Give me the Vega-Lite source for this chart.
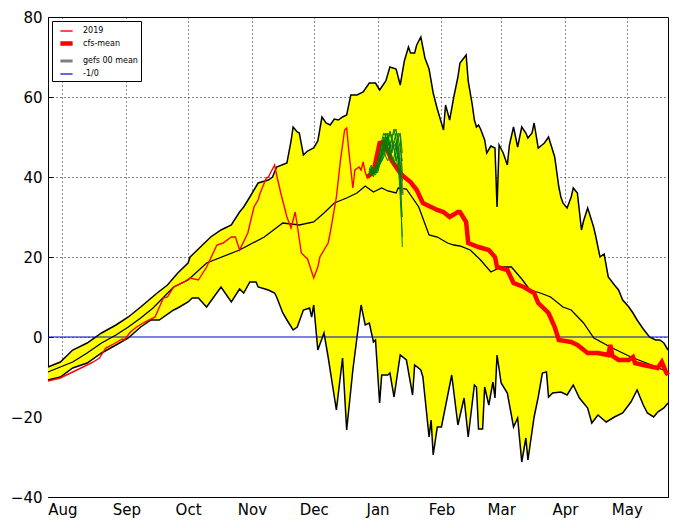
{
  "$schema": "https://vega.github.io/schema/vega-lite/v6.json",
  "width": 620,
  "height": 480,
  "autosize": {"type": "none"},
  "padding": {"left": 48, "top": 17, "right": 9, "bottom": 31},
  "background": "white",
  "config": {
    "font": "DejaVu Sans",
    "view": {"stroke": "black", "strokeWidth": 1},
    "axis": {
      "grid": true, "gridColor": "black", "gridDash": [1, 3], "gridWidth": 1, "gridOpacity": 0.9,
      "domainColor": "black", "tickColor": "black", "labelColor": "black",
      "labelFontSize": 15, "labelFont": "DejaVu Sans", "tickSize": -5, "title": null,
      "zindex": 1, "labelFlush": false, "labelOverlap": false
    },
    "legend": {
      "orient": "top-left", "offset": 4, "padding": 3,
      "symbolType": "stroke", "symbolSize": 150, "labelFontSize": 8, "labelFont": "DejaVu Sans",
      "labelOffset": 8, "symbolOffset": 3, "strokeColor": "black", "fillColor": "white",
      "rowPadding": -3, "labelLimit": 200, "labelColor": "black"
    }
  },
  "datasets": {
    "upper": [
      {"date":"2019-07-25","v":-7.5},{"date":"2019-07-31","v":-6.25},{"date":"2019-08-06","v":-3.25},{"date":"2019-08-13","v":-1.5},
      {"date":"2019-08-20","v":1},{"date":"2019-08-27","v":3},{"date":"2019-09-02","v":5},{"date":"2019-09-08","v":7.5},
      {"date":"2019-09-12","v":9.25},{"date":"2019-09-16","v":11},{"date":"2019-09-21","v":13},{"date":"2019-09-26","v":16},
      {"date":"2019-10-01","v":18.5},{"date":"2019-10-02","v":20},{"date":"2019-10-04","v":21},{"date":"2019-10-07","v":22.5},
      {"date":"2019-10-12","v":25},{"date":"2019-10-17","v":26.75},{"date":"2019-10-22","v":28},{"date":"2019-10-26","v":31.25},
      {"date":"2019-10-28","v":32.5},{"date":"2019-10-31","v":35},{"date":"2019-11-04","v":38.5},{"date":"2019-11-09","v":39.25},
      {"date":"2019-11-11","v":40},{"date":"2019-11-13","v":42.5},{"date":"2019-11-18","v":43.5},{"date":"2019-11-20","v":49},
      {"date":"2019-11-21","v":52.5},{"date":"2019-11-23","v":51.25},{"date":"2019-11-24","v":51},{"date":"2019-11-26","v":45.5},
      {"date":"2019-11-28","v":46.5},{"date":"2019-12-01","v":47.25},{"date":"2019-12-03","v":49},{"date":"2019-12-05","v":55},
      {"date":"2019-12-07","v":53.5},{"date":"2019-12-09","v":53},{"date":"2019-12-11","v":54.5},{"date":"2019-12-13","v":54.25},
      {"date":"2019-12-15","v":55},{"date":"2019-12-17","v":55.5},{"date":"2019-12-19","v":60.5},{"date":"2019-12-22","v":60.5},
      {"date":"2019-12-25","v":61.25},{"date":"2019-12-28","v":63.5},{"date":"2019-12-31","v":63.5},{"date":"2020-01-02","v":61.75},
      {"date":"2020-01-05","v":64},{"date":"2020-01-07","v":67.5},{"date":"2020-01-10","v":67},{"date":"2020-01-12","v":63},
      {"date":"2020-01-14","v":69},{"date":"2020-01-16","v":72.5},{"date":"2020-01-17","v":71},{"date":"2020-01-19","v":71},
      {"date":"2020-01-20","v":73},{"date":"2020-01-22","v":75},{"date":"2020-01-24","v":69.75},{"date":"2020-01-26","v":67},
      {"date":"2020-01-28","v":61},{"date":"2020-01-30","v":57},{"date":"2020-02-02","v":51.75},{"date":"2020-02-03","v":58},
      {"date":"2020-02-05","v":54.25},{"date":"2020-02-07","v":60},{"date":"2020-02-09","v":65},{"date":"2020-02-10","v":68.5},
      {"date":"2020-02-13","v":70.5},{"date":"2020-02-14","v":64},{"date":"2020-02-16","v":58},{"date":"2020-02-17","v":54.25},
      {"date":"2020-02-18","v":52.5},{"date":"2020-02-19","v":53},{"date":"2020-02-20","v":52},{"date":"2020-02-22","v":49.25},
      {"date":"2020-02-23","v":46},{"date":"2020-02-25","v":47.75},{"date":"2020-02-27","v":47.25},{"date":"2020-02-28","v":32.5},
      {"date":"2020-02-29","v":48},{"date":"2020-03-02","v":46},{"date":"2020-03-04","v":43},{"date":"2020-03-05","v":48},
      {"date":"2020-03-07","v":52.5},{"date":"2020-03-09","v":47.5},{"date":"2020-03-11","v":52.5},{"date":"2020-03-13","v":51},
      {"date":"2020-03-14","v":49.75},{"date":"2020-03-16","v":51},{"date":"2020-03-17","v":53.5},{"date":"2020-03-19","v":47.25},
      {"date":"2020-03-22","v":48.5},{"date":"2020-03-24","v":50},{"date":"2020-03-27","v":45},{"date":"2020-03-29","v":37.5},
      {"date":"2020-03-30","v":35},{"date":"2020-03-31","v":33.5},{"date":"2020-04-02","v":32.25},{"date":"2020-04-04","v":35},
      {"date":"2020-04-05","v":37.25},{"date":"2020-04-07","v":36},{"date":"2020-04-09","v":26.75},{"date":"2020-04-10","v":29},
      {"date":"2020-04-12","v":32.25},{"date":"2020-04-14","v":29},{"date":"2020-04-15","v":27.25},{"date":"2020-04-16","v":25},
      {"date":"2020-04-18","v":20},{"date":"2020-04-20","v":20.75},{"date":"2020-04-22","v":15},{"date":"2020-04-25","v":13},
      {"date":"2020-04-27","v":11.75},{"date":"2020-04-29","v":9.25},{"date":"2020-05-02","v":7.5},{"date":"2020-05-04","v":6},
      {"date":"2020-05-06","v":4.25},{"date":"2020-05-09","v":2},{"date":"2020-05-12","v":0},{"date":"2020-05-15","v":-0.75},
      {"date":"2020-05-17","v":-0.75},{"date":"2020-05-19","v":-1.5},{"date":"2020-05-21","v":-3.25}
    ],
    "lower": [
      {"date":"2019-07-25","v":-10.75},{"date":"2019-07-31","v":-10},{"date":"2019-08-06","v":-7.75},{"date":"2019-08-13","v":-6.5},
      {"date":"2019-08-20","v":-4},{"date":"2019-08-27","v":-2},{"date":"2019-09-02","v":-0.25},{"date":"2019-09-08","v":2.5},
      {"date":"2019-09-13","v":4.25},{"date":"2019-09-17","v":4.25},{"date":"2019-09-24","v":6.75},{"date":"2019-09-26","v":7.25},
      {"date":"2019-10-01","v":8.75},{"date":"2019-10-03","v":9.75},{"date":"2019-10-06","v":9.75},{"date":"2019-10-10","v":7.5},
      {"date":"2019-10-17","v":12.5},{"date":"2019-10-22","v":8.75},{"date":"2019-10-26","v":12},{"date":"2019-10-28","v":11},
      {"date":"2019-10-31","v":13.75},{"date":"2019-11-03","v":13.75},{"date":"2019-11-04","v":12.5},{"date":"2019-11-09","v":11.75},
      {"date":"2019-11-12","v":11},{"date":"2019-11-13","v":10},{"date":"2019-11-16","v":6},{"date":"2019-11-18","v":4.25},
      {"date":"2019-11-21","v":1.75},{"date":"2019-11-23","v":2.5},{"date":"2019-11-26","v":6.75},{"date":"2019-11-29","v":7.25},
      {"date":"2019-11-30","v":5},{"date":"2019-12-01","v":8},{"date":"2019-12-03","v":-3.25},{"date":"2019-12-06","v":1},
      {"date":"2019-12-08","v":-5},{"date":"2019-12-12","v":-18.25},{"date":"2019-12-15","v":-5.25},{"date":"2019-12-17","v":-23.25},
      {"date":"2019-12-20","v":-8.25},{"date":"2019-12-24","v":8},{"date":"2019-12-26","v":3},{"date":"2019-12-28","v":3.5},
      {"date":"2019-12-30","v":-1.25},{"date":"2019-12-31","v":-0.75},{"date":"2020-01-02","v":-16.5},{"date":"2020-01-03","v":-9.5},
      {"date":"2020-01-06","v":-9.5},{"date":"2020-01-07","v":-9},{"date":"2020-01-09","v":-15},{"date":"2020-01-12","v":-4.5},
      {"date":"2020-01-15","v":-5.75},{"date":"2020-01-18","v":-14.5},{"date":"2020-01-19","v":-7},{"date":"2020-01-22","v":-8.25},
      {"date":"2020-01-23","v":-10},{"date":"2020-01-26","v":-25},{"date":"2020-01-27","v":-20.75},{"date":"2020-01-28","v":-29.5},
      {"date":"2020-01-30","v":-22.5},{"date":"2020-02-01","v":-22.5},{"date":"2020-02-06","v":-9.5},{"date":"2020-02-09","v":-22},
      {"date":"2020-02-12","v":-15.25},{"date":"2020-02-14","v":-25},{"date":"2020-02-17","v":-12},{"date":"2020-02-18","v":-12.5},
      {"date":"2020-02-19","v":-23},{"date":"2020-02-21","v":-23},{"date":"2020-02-22","v":-12.5},{"date":"2020-02-24","v":-17},
      {"date":"2020-02-26","v":-11.25},{"date":"2020-02-27","v":-15.25},{"date":"2020-02-28","v":-4.5},{"date":"2020-03-01","v":-11.5},
      {"date":"2020-03-04","v":-14},{"date":"2020-03-07","v":-22.5},{"date":"2020-03-09","v":-20.25},{"date":"2020-03-11","v":-31.25},
      {"date":"2020-03-13","v":-25.25},{"date":"2020-03-14","v":-30.75},{"date":"2020-03-17","v":-20},{"date":"2020-03-19","v":-15},
      {"date":"2020-03-21","v":-9},{"date":"2020-03-23","v":-8.75},{"date":"2020-03-24","v":-15},{"date":"2020-03-26","v":-14},
      {"date":"2020-03-30","v":-13.75},{"date":"2020-04-02","v":-14.5},{"date":"2020-04-05","v":-12},{"date":"2020-04-08","v":-15.25},
      {"date":"2020-04-12","v":-17.75},{"date":"2020-04-14","v":-21.5},{"date":"2020-04-17","v":-19.5},{"date":"2020-04-21","v":-21.25},
      {"date":"2020-04-25","v":-20},{"date":"2020-04-29","v":-19},{"date":"2020-05-03","v":-16.25},{"date":"2020-05-06","v":-13.25},
      {"date":"2020-05-09","v":-17},{"date":"2020-05-11","v":-19},{"date":"2020-05-14","v":-20},{"date":"2020-05-16","v":-18.75},
      {"date":"2020-05-19","v":-17.75},{"date":"2020-05-21","v":-16.5}
    ],
    "clim": [
      {"date":"2019-07-25","v":-8.75},{"date":"2019-07-31","v":-7.5},{"date":"2019-08-06","v":-6.25},{"date":"2019-08-13","v":-4},
      {"date":"2019-08-20","v":-1.5},{"date":"2019-08-27","v":0.5},{"date":"2019-09-02","v":2.5},{"date":"2019-09-08","v":4.75},
      {"date":"2019-09-14","v":7.25},{"date":"2019-09-24","v":12.5},{"date":"2019-10-01","v":14.25},{"date":"2019-10-10","v":18.5},
      {"date":"2019-10-26","v":21.75},{"date":"2019-11-07","v":25},{"date":"2019-11-16","v":28.5},{"date":"2019-11-24","v":28},
      {"date":"2019-12-01","v":28.75},{"date":"2019-12-06","v":31},{"date":"2019-12-11","v":33.5},{"date":"2019-12-17","v":34.75},
      {"date":"2019-12-22","v":36},{"date":"2019-12-26","v":37.75},{"date":"2019-12-30","v":36.25},{"date":"2020-01-03","v":37.25},
      {"date":"2020-01-06","v":36.5},{"date":"2020-01-10","v":36},{"date":"2020-01-11","v":37.25},{"date":"2020-01-15","v":37},
      {"date":"2020-01-21","v":32.5},{"date":"2020-01-26","v":25.5},{"date":"2020-01-30","v":25},{"date":"2020-02-04","v":23.5},
      {"date":"2020-02-07","v":23},{"date":"2020-02-10","v":22.75},{"date":"2020-02-15","v":21.75},{"date":"2020-02-20","v":19.25},
      {"date":"2020-02-25","v":16.25},{"date":"2020-03-01","v":17.5},{"date":"2020-03-06","v":17.5},{"date":"2020-03-11","v":14.5},
      {"date":"2020-03-15","v":11.75},{"date":"2020-03-20","v":11},{"date":"2020-03-25","v":10},{"date":"2020-03-31","v":7.5},
      {"date":"2020-04-04","v":6.75},{"date":"2020-04-10","v":3.5},{"date":"2020-04-15","v":-0.25},{"date":"2020-04-23","v":-2.5},
      {"date":"2020-05-03","v":-5},{"date":"2020-05-13","v":-7},{"date":"2020-05-21","v":-8.75}
    ],
    "series": [
      {"s":"-1/0","date":"2019-07-25","v":0},{"s":"-1/0","date":"2020-05-21","v":0},
      {"s":"2019","date":"2019-07-25","v":-11},{"s":"2019","date":"2019-07-31","v":-10.25},{"s":"2019","date":"2019-08-06","v":-8.75},{"s":"2019","date":"2019-08-11","v":-7.5},
      {"s":"2019","date":"2019-08-16","v":-6.25},{"s":"2019","date":"2019-08-19","v":-5.25},{"s":"2019","date":"2019-08-22","v":-2.75},{"s":"2019","date":"2019-08-25","v":-2},
      {"s":"2019","date":"2019-08-30","v":-0.5},{"s":"2019","date":"2019-08-31","v":-0.75},{"s":"2019","date":"2019-09-03","v":1.25},{"s":"2019","date":"2019-09-06","v":2.5},
      {"s":"2019","date":"2019-09-10","v":3.75},{"s":"2019","date":"2019-09-15","v":5},{"s":"2019","date":"2019-09-19","v":9.75},{"s":"2019","date":"2019-09-21","v":10},
      {"s":"2019","date":"2019-09-24","v":12.5},{"s":"2019","date":"2019-09-29","v":13.75},{"s":"2019","date":"2019-10-02","v":14.75},{"s":"2019","date":"2019-10-06","v":14.25},
      {"s":"2019","date":"2019-10-10","v":17.5},{"s":"2019","date":"2019-10-15","v":23},{"s":"2019","date":"2019-10-18","v":23.5},{"s":"2019","date":"2019-10-22","v":25},
      {"s":"2019","date":"2019-10-24","v":25},{"s":"2019","date":"2019-10-26","v":21.75},{"s":"2019","date":"2019-10-30","v":26},{"s":"2019","date":"2019-11-02","v":32.5},
      {"s":"2019","date":"2019-11-04","v":34.25},{"s":"2019","date":"2019-11-05","v":36},{"s":"2019","date":"2019-11-08","v":39.75},{"s":"2019","date":"2019-11-09","v":40},
      {"s":"2019","date":"2019-11-12","v":43},{"s":"2019","date":"2019-11-13","v":40.5},{"s":"2019","date":"2019-11-15","v":36},{"s":"2019","date":"2019-11-18","v":30},
      {"s":"2019","date":"2019-11-20","v":27.25},{"s":"2019","date":"2019-11-22","v":31.25},{"s":"2019","date":"2019-11-23","v":28},{"s":"2019","date":"2019-11-25","v":21},
      {"s":"2019","date":"2019-11-28","v":19.5},{"s":"2019","date":"2019-12-01","v":14.75},{"s":"2019","date":"2019-12-03","v":17.5},{"s":"2019","date":"2019-12-04","v":20},
      {"s":"2019","date":"2019-12-08","v":23.5},{"s":"2019","date":"2019-12-09","v":26},{"s":"2019","date":"2019-12-12","v":35},{"s":"2019","date":"2019-12-14","v":44.25},
      {"s":"2019","date":"2019-12-16","v":51.75},{"s":"2019","date":"2019-12-17","v":52.25},{"s":"2019","date":"2019-12-18","v":46.75},{"s":"2019","date":"2019-12-20","v":37.25},
      {"s":"2019","date":"2019-12-21","v":41.75},{"s":"2019","date":"2019-12-23","v":42.5},{"s":"2019","date":"2019-12-24","v":41.75},{"s":"2019","date":"2019-12-25","v":43.75},
      {"s":"2019","date":"2019-12-26","v":41.25},{"s":"2019","date":"2019-12-27","v":39.75},{"s":"2019","date":"2019-12-28","v":40.5},
      {"s":"gefs 00 mean","date":"2019-12-28","v":41},{"s":"gefs 00 mean","date":"2019-12-29","v":41.7},{"s":"gefs 00 mean","date":"2019-12-30","v":41.2},{"s":"gefs 00 mean","date":"2019-12-31","v":41.8},
      {"s":"gefs 00 mean","date":"2020-01-01","v":42.4},{"s":"gefs 00 mean","date":"2020-01-02","v":44.4},{"s":"gefs 00 mean","date":"2020-01-03","v":46},{"s":"gefs 00 mean","date":"2020-01-04","v":47.7},
      {"s":"gefs 00 mean","date":"2020-01-05","v":48.5},{"s":"gefs 00 mean","date":"2020-01-06","v":48.2},{"s":"gefs 00 mean","date":"2020-01-07","v":48},{"s":"gefs 00 mean","date":"2020-01-08","v":47.6},
      {"s":"gefs 00 mean","date":"2020-01-09","v":47.9},{"s":"gefs 00 mean","date":"2020-01-10","v":47.9},{"s":"gefs 00 mean","date":"2020-01-11","v":47},{"s":"gefs 00 mean","date":"2020-01-12","v":43},
      {"s":"gefs 00 mean","date":"2020-01-13","v":35.5},
      {"s":"cfs-mean","date":"2019-12-27","v":40},{"s":"cfs-mean","date":"2019-12-30","v":41.25},{"s":"cfs-mean","date":"2020-01-02","v":48.5},{"s":"cfs-mean","date":"2020-01-04","v":48.75},
      {"s":"cfs-mean","date":"2020-01-08","v":44},{"s":"cfs-mean","date":"2020-01-12","v":41},{"s":"cfs-mean","date":"2020-01-14","v":40},{"s":"cfs-mean","date":"2020-01-17","v":38.75},
      {"s":"cfs-mean","date":"2020-01-20","v":36.75},{"s":"cfs-mean","date":"2020-01-23","v":33.5},{"s":"cfs-mean","date":"2020-01-27","v":32.5},{"s":"cfs-mean","date":"2020-01-30","v":31.75},
      {"s":"cfs-mean","date":"2020-02-02","v":31.25},{"s":"cfs-mean","date":"2020-02-05","v":30},{"s":"cfs-mean","date":"2020-02-09","v":31.25},{"s":"cfs-mean","date":"2020-02-10","v":31.25},
      {"s":"cfs-mean","date":"2020-02-13","v":28.75},{"s":"cfs-mean","date":"2020-02-14","v":23.5},{"s":"cfs-mean","date":"2020-02-19","v":22.5},{"s":"cfs-mean","date":"2020-02-24","v":21.75},
      {"s":"cfs-mean","date":"2020-02-27","v":20},{"s":"cfs-mean","date":"2020-02-28","v":17.5},{"s":"cfs-mean","date":"2020-03-04","v":16.75},{"s":"cfs-mean","date":"2020-03-07","v":13.5},
      {"s":"cfs-mean","date":"2020-03-12","v":12.5},{"s":"cfs-mean","date":"2020-03-17","v":11},{"s":"cfs-mean","date":"2020-03-19","v":8.5},{"s":"cfs-mean","date":"2020-03-24","v":6},
      {"s":"cfs-mean","date":"2020-03-27","v":2.5},{"s":"cfs-mean","date":"2020-03-29","v":-0.75},{"s":"cfs-mean","date":"2020-04-04","v":-1.25},{"s":"cfs-mean","date":"2020-04-07","v":-2},
      {"s":"cfs-mean","date":"2020-04-12","v":-4},{"s":"cfs-mean","date":"2020-04-17","v":-4},{"s":"cfs-mean","date":"2020-04-22","v":-4.5},{"s":"cfs-mean","date":"2020-04-23","v":-2},
      {"s":"cfs-mean","date":"2020-04-24","v":-4.75},{"s":"cfs-mean","date":"2020-04-27","v":-5.75},{"s":"cfs-mean","date":"2020-05-02","v":-5.75},{"s":"cfs-mean","date":"2020-05-04","v":-5},
      {"s":"cfs-mean","date":"2020-05-05","v":-6.5},{"s":"cfs-mean","date":"2020-05-09","v":-7},{"s":"cfs-mean","date":"2020-05-16","v":-7.75},{"s":"cfs-mean","date":"2020-05-18","v":-6.25},
      {"s":"cfs-mean","date":"2020-05-20","v":-8.75},{"s":"cfs-mean","date":"2020-05-21","v":-9.5}
    ],
    "gefs": [
      {"m":1,"date":"2019-12-28","v":41},{"m":1,"date":"2019-12-29","v":42.5},{"m":1,"date":"2019-12-30","v":40.5},{"m":1,"date":"2019-12-31","v":42},{"m":1,"date":"2020-01-01","v":41},{"m":1,"date":"2020-01-02","v":43},{"m":1,"date":"2020-01-03","v":45},{"m":1,"date":"2020-01-04","v":47},{"m":1,"date":"2020-01-05","v":49},{"m":1,"date":"2020-01-06","v":51},{"m":1,"date":"2020-01-07","v":48},{"m":1,"date":"2020-01-08","v":46},{"m":1,"date":"2020-01-09","v":49},{"m":1,"date":"2020-01-10","v":51},{"m":1,"date":"2020-01-11","v":50},{"m":1,"date":"2020-01-12","v":47},{"m":1,"date":"2020-01-13","v":44},
      {"m":2,"date":"2019-12-28","v":41.5},{"m":2,"date":"2019-12-29","v":41},{"m":2,"date":"2019-12-30","v":42},{"m":2,"date":"2019-12-31","v":41},{"m":2,"date":"2020-01-01","v":42.5},{"m":2,"date":"2020-01-02","v":44},{"m":2,"date":"2020-01-03","v":46},{"m":2,"date":"2020-01-04","v":48},{"m":2,"date":"2020-01-05","v":50},{"m":2,"date":"2020-01-06","v":49},{"m":2,"date":"2020-01-07","v":51.5},{"m":2,"date":"2020-01-08","v":50},{"m":2,"date":"2020-01-09","v":47},{"m":2,"date":"2020-01-10","v":45},{"m":2,"date":"2020-01-11","v":42},{"m":2,"date":"2020-01-12","v":40},{"m":2,"date":"2020-01-13","v":36},
      {"m":3,"date":"2019-12-28","v":40.5},{"m":3,"date":"2019-12-29","v":42},{"m":3,"date":"2019-12-30","v":41},{"m":3,"date":"2019-12-31","v":43},{"m":3,"date":"2020-01-01","v":42},{"m":3,"date":"2020-01-02","v":44},{"m":3,"date":"2020-01-03","v":47},{"m":3,"date":"2020-01-04","v":50},{"m":3,"date":"2020-01-05","v":48},{"m":3,"date":"2020-01-06","v":46},{"m":3,"date":"2020-01-07","v":48},{"m":3,"date":"2020-01-08","v":50},{"m":3,"date":"2020-01-09","v":52},{"m":3,"date":"2020-01-10","v":49},{"m":3,"date":"2020-01-11","v":45},{"m":3,"date":"2020-01-12","v":38},{"m":3,"date":"2020-01-13","v":30},
      {"m":4,"date":"2019-12-28","v":42},{"m":4,"date":"2019-12-29","v":40.5},{"m":4,"date":"2019-12-30","v":41.5},{"m":4,"date":"2019-12-31","v":42},{"m":4,"date":"2020-01-01","v":43},{"m":4,"date":"2020-01-02","v":45},{"m":4,"date":"2020-01-03","v":44},{"m":4,"date":"2020-01-04","v":46},{"m":4,"date":"2020-01-05","v":48},{"m":4,"date":"2020-01-06","v":50},{"m":4,"date":"2020-01-07","v":47},{"m":4,"date":"2020-01-08","v":45},{"m":4,"date":"2020-01-09","v":43},{"m":4,"date":"2020-01-10","v":46},{"m":4,"date":"2020-01-11","v":50},{"m":4,"date":"2020-01-12","v":51},{"m":4,"date":"2020-01-13","v":46},
      {"m":5,"date":"2019-12-28","v":41},{"m":5,"date":"2019-12-29","v":42},{"m":5,"date":"2019-12-30","v":41},{"m":5,"date":"2019-12-31","v":42.5},{"m":5,"date":"2020-01-01","v":44},{"m":5,"date":"2020-01-02","v":46},{"m":5,"date":"2020-01-03","v":49},{"m":5,"date":"2020-01-04","v":51},{"m":5,"date":"2020-01-05","v":50},{"m":5,"date":"2020-01-06","v":47},{"m":5,"date":"2020-01-07","v":45},{"m":5,"date":"2020-01-08","v":47},{"m":5,"date":"2020-01-09","v":49},{"m":5,"date":"2020-01-10","v":48},{"m":5,"date":"2020-01-11","v":44},{"m":5,"date":"2020-01-12","v":35},{"m":5,"date":"2020-01-13","v":25},
      {"m":6,"date":"2019-12-28","v":40.5},{"m":6,"date":"2019-12-29","v":41.5},{"m":6,"date":"2019-12-30","v":42.5},{"m":6,"date":"2019-12-31","v":41},{"m":6,"date":"2020-01-01","v":42},{"m":6,"date":"2020-01-02","v":43},{"m":6,"date":"2020-01-03","v":44},{"m":6,"date":"2020-01-04","v":45},{"m":6,"date":"2020-01-05","v":47},{"m":6,"date":"2020-01-06","v":49},{"m":6,"date":"2020-01-07","v":51},{"m":6,"date":"2020-01-08","v":49},{"m":6,"date":"2020-01-09","v":47},{"m":6,"date":"2020-01-10","v":44},{"m":6,"date":"2020-01-11","v":46},{"m":6,"date":"2020-01-12","v":43},{"m":6,"date":"2020-01-13","v":39},
      {"m":7,"date":"2019-12-28","v":41},{"m":7,"date":"2019-12-29","v":41},{"m":7,"date":"2019-12-30","v":40},{"m":7,"date":"2019-12-31","v":42},{"m":7,"date":"2020-01-01","v":43},{"m":7,"date":"2020-01-02","v":46},{"m":7,"date":"2020-01-03","v":48},{"m":7,"date":"2020-01-04","v":47},{"m":7,"date":"2020-01-05","v":45},{"m":7,"date":"2020-01-06","v":44},{"m":7,"date":"2020-01-07","v":47},{"m":7,"date":"2020-01-08","v":50},{"m":7,"date":"2020-01-09","v":51},{"m":7,"date":"2020-01-10","v":52},{"m":7,"date":"2020-01-11","v":48},{"m":7,"date":"2020-01-12","v":42},{"m":7,"date":"2020-01-13","v":22.5},
      {"m":8,"date":"2019-12-28","v":42},{"m":8,"date":"2019-12-29","v":43},{"m":8,"date":"2019-12-30","v":41},{"m":8,"date":"2019-12-31","v":40.5},{"m":8,"date":"2020-01-01","v":42},{"m":8,"date":"2020-01-02","v":44},{"m":8,"date":"2020-01-03","v":45},{"m":8,"date":"2020-01-04","v":48},{"m":8,"date":"2020-01-05","v":51},{"m":8,"date":"2020-01-06","v":50},{"m":8,"date":"2020-01-07","v":46},{"m":8,"date":"2020-01-08","v":44},{"m":8,"date":"2020-01-09","v":45},{"m":8,"date":"2020-01-10","v":48},{"m":8,"date":"2020-01-11","v":51},{"m":8,"date":"2020-01-12","v":50},{"m":8,"date":"2020-01-13","v":41}
    ]
  },
  "layer": [
    {
      "data": {"name": "upper"},
      "mark": {"type": "area", "color": "#ffff00"},
      "encoding": {
        "x": {
          "field": "date", "type": "temporal",
          "scale": {"type": "utc", "domain": [{"year": 2019, "month": 7, "date": 25, "utc": true}, {"year": 2020, "month": 5, "date": 21, "utc": true}]},
          "axis": {
            "format": "%b", "labelPadding": 10,
            "values": [
              {"year": 2019, "month": 8, "date": 1, "utc": true}, {"year": 2019, "month": 9, "date": 1, "utc": true},
              {"year": 2019, "month": 10, "date": 1, "utc": true}, {"year": 2019, "month": 11, "date": 1, "utc": true},
              {"year": 2019, "month": 12, "date": 1, "utc": true}, {"year": 2020, "month": 1, "date": 1, "utc": true},
              {"year": 2020, "month": 2, "date": 1, "utc": true}, {"year": 2020, "month": 3, "date": 1, "utc": true},
              {"year": 2020, "month": 4, "date": 1, "utc": true}, {"year": 2020, "month": 5, "date": 1, "utc": true}
            ]
          }
        },
        "y": {
          "field": "v", "type": "quantitative",
          "scale": {"domain": [-40, 80], "nice": false, "zero": false},
          "axis": {"values": [-40, -20, 0, 20, 40, 60, 80], "labelPadding": 11}
        },
        "y2": {"datum": -40}
      }
    },
    {
      "data": {"name": "lower"},
      "mark": {"type": "area", "color": "white"},
      "encoding": {
        "x": {"field": "date", "type": "temporal"},
        "y": {"field": "v", "type": "quantitative"},
        "y2": {"datum": -40}
      }
    },
    {
      "data": {"name": "upper"},
      "mark": {"type": "line", "color": "black", "strokeWidth": 1.5},
      "encoding": {"x": {"field": "date", "type": "temporal"}, "y": {"field": "v", "type": "quantitative"}}
    },
    {
      "data": {"name": "lower"},
      "mark": {"type": "line", "color": "black", "strokeWidth": 1.5},
      "encoding": {"x": {"field": "date", "type": "temporal"}, "y": {"field": "v", "type": "quantitative"}}
    },
    {
      "data": {"name": "clim"},
      "mark": {"type": "line", "color": "black", "strokeWidth": 1.3},
      "encoding": {"x": {"field": "date", "type": "temporal"}, "y": {"field": "v", "type": "quantitative"}}
    },
    {
      "data": {"name": "series"},
      "mark": {"type": "line"},
      "encoding": {
        "x": {"field": "date", "type": "temporal"},
        "y": {"field": "v", "type": "quantitative"},
        "color": {
          "field": "s", "type": "nominal",
          "scale": {"domain": ["2019", "cfs-mean", "gefs 00 mean", "-1/0"], "range": ["#ff0000", "#ff0000", "#808080", "#0000cc"]},
          "legend": {"title": null}
        },
        "strokeWidth": {
          "field": "s", "type": "nominal",
          "scale": {"type": "ordinal", "domain": ["2019", "cfs-mean", "gefs 00 mean", "-1/0"], "range": [1.4, 4.5, 3, 1.2]},
          "legend": {"title": null}
        }
      }
    },
    {
      "data": {"name": "gefs"},
      "mark": {"type": "line", "color": "#008000", "strokeWidth": 1},
      "encoding": {
        "x": {"field": "date", "type": "temporal"}, "y": {"field": "v", "type": "quantitative"},
        "detail": {"field": "m", "type": "nominal"}
      }
    }
  ]
}
